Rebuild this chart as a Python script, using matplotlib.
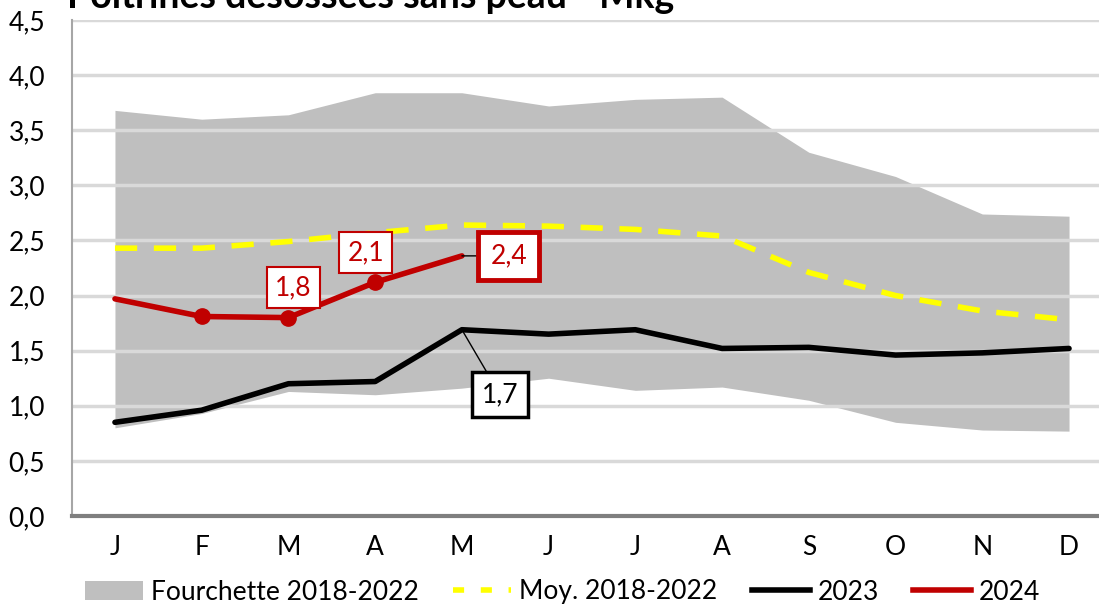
import matplotlib
matplotlib.use("Agg")
import matplotlib.pyplot as plt
from matplotlib.patches import Patch
from matplotlib.lines import Line2D

plt.rcParams['font.family'] = ['Lato', 'DejaVu Sans']

months = ["J", "F", "M", "A", "M", "J", "J", "A", "S", "O", "N", "D"]
range_high = [3.68, 3.60, 3.64, 3.84, 3.84, 3.72, 3.78, 3.80, 3.30, 3.08, 2.74, 2.72]
range_low = [0.80, 0.93, 1.13, 1.10, 1.16, 1.25, 1.14, 1.17, 1.05, 0.85, 0.78, 0.77]
moy = [2.43, 2.43, 2.49, 2.57, 2.64, 2.63, 2.60, 2.54, 2.21, 2.00, 1.86, 1.78]
y2023 = [0.85, 0.96, 1.20, 1.22, 1.69, 1.65, 1.69, 1.52, 1.53, 1.46, 1.48, 1.52]
y2024 = [1.97, 1.81, 1.80, 2.12, 2.36]
yticks = [0.0, 0.5, 1.0, 1.5, 2.0, 2.5, 3.0, 3.5, 4.0, 4.5]
title = "Poitrines désossées sans peau - Mkg"

W, H = 1099, 608
fig = plt.figure(figsize=(W / 100, H / 100), dpi=100)
ax = fig.add_axes([71.6 / W, 1 - 516 / H, (1112.4 - 71.6) / W, (516 - 20) / H])
ax.set_xlim(-0.5, 11.5)
ax.set_ylim(0, 4.5)

FS = 19
x = list(range(12))
ax.fill_between(x, range_low, range_high, color="#bfbfbf", lw=0, zorder=1)
for t in yticks[1:]:
    ax.axhline(t, color="#d9d9d9", lw=2.5, zorder=0.5 if t == 4.5 else 1.5)
ax.plot(x, moy, color="#ffff00", lw=4, dashes=(4, 3), zorder=3)
ax.plot(x, y2023, color="black", lw=4, zorder=4, solid_capstyle="round")
x24 = list(range(len(y2024)))
ax.plot(x24, y2024, color="#c00000", lw=4, zorder=5, solid_capstyle="round")
ax.plot(x24[1:4], y2024[1:4], "o", color="#c00000", ms=11, zorder=6)

ax.set_yticks(yticks)
ax.set_yticklabels([f"{t:.1f}".replace(".", ",") for t in yticks])
ax.set_xticks(x)
ax.set_xticklabels(months)
ax.tick_params(axis="both", length=0, labelsize=FS, colors="black")
ax.tick_params(axis="y", pad=19)
ax.tick_params(axis="x", pad=14)
for s in ["top", "right"]:
    ax.spines[s].set_visible(False)
ax.spines["left"].set_color("#a6a6a6")
ax.spines["left"].set_linewidth(1.5)
ax.spines["bottom"].set_color("#7f7f7f")
ax.spines["bottom"].set_linewidth(3)

def fmt(v):
    return f"{v:.1f}".replace(".", ",")

# data labels
ax.annotate(fmt(y2024[2]), xy=(2, y2024[2]), xytext=(2.06, 2.07), ha="center", va="center",
            fontsize=FS, color="#c00000",
            bbox=dict(boxstyle="square,pad=0.3", fc="white", ec="#c00000", lw=1.5), zorder=8)
ax.annotate(fmt(y2024[3]), xy=(3, y2024[3]), xytext=(2.89, 2.39), ha="center", va="center",
            fontsize=FS, color="#c00000",
            bbox=dict(boxstyle="square,pad=0.3", fc="white", ec="#c00000", lw=1.5), zorder=8)
ax.annotate(fmt(y2024[4]), xy=(4, y2024[4]), xytext=(4.54, 2.36), ha="center", va="center",
            fontsize=FS, color="#c00000",
            bbox=dict(boxstyle="square,pad=0.45", fc="white", ec="#c00000", lw=3.5),
            arrowprops=dict(arrowstyle="-", color="black", lw=1, shrinkA=0, shrinkB=0), zorder=8)
ax.annotate(fmt(y2023[4]), xy=(4, y2023[4]), xytext=(4.44, 1.10), ha="center", va="center",
            fontsize=FS, color="black",
            bbox=dict(boxstyle="square,pad=0.38", fc="white", ec="black", lw=2.5),
            arrowprops=dict(arrowstyle="-", color="black", lw=1, shrinkA=0, shrinkB=0), zorder=8)

fig.text(67 / W, 1 - 8 / H, title, fontsize=27, fontweight="bold", ha="left", va="baseline")

handles = [Patch(facecolor="#bfbfbf", edgecolor="none"),
           Line2D([], [], color="#ffff00", lw=4, dashes=(2, 3)),
           Line2D([], [], color="black", lw=4),
           Line2D([], [], color="#c00000", lw=4)]
labels = ["Fourchette 2018-2022", "Moy. 2018-2022", "2023", "2024"]
fig.legend(handles, labels, loc="center", bbox_to_anchor=(0.512, 1 - 592 / H), ncol=4,
           frameon=False, fontsize=FS, handlelength=2.2, handletextpad=0.3,
           columnspacing=1.3, borderaxespad=0)

fig.savefig("out.png", dpi=100)
